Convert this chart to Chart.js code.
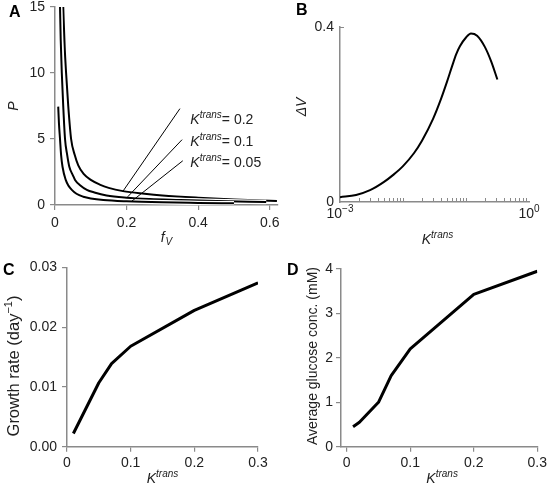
<!DOCTYPE html>
<html><head><meta charset="utf-8">
<script src="https://cdn.jsdelivr.net/npm/chart.js@4"></script>
<style>
html,body{margin:0;padding:0;background:#fff;}
body{width:547px;height:495px;position:relative;overflow:hidden;}
canvas{position:absolute;}
</style></head><body>
<canvas id="cA" width="280" height="250" style="left:0;top:0"></canvas>
<canvas id="cB" width="267" height="250" style="left:280px;top:0"></canvas>
<canvas id="cC" width="280" height="245" style="left:0;top:250px"></canvas>
<canvas id="cD" width="267" height="245" style="left:280px;top:250px"></canvas>
<script>
// ---------------- DATA ----------------
// Panel A: P vs f_V for three K^trans values
const A_fV_K02 = [0.023,0.027,0.031,0.037,0.045,0.055,0.065,0.08,0.1,0.125,0.15,0.19,0.25,0.3,0.4,0.5,0.62];
const A_P_K02  = [15,12,10,7.5,5,3.8,3.0,2.35,1.9,1.55,1.3,1.05,0.85,0.72,0.55,0.42,0.3];
const A_fV_K01 = [0.014,0.016,0.019,0.023,0.028,0.034,0.04,0.05,0.056,0.07,0.089,0.11,0.144,0.2,0.265,0.35,0.45,0.59];
const A_P_K01  = [15,12.5,10,7.5,5,3.8,2.9,2.25,1.9,1.5,1.15,0.95,0.72,0.55,0.45,0.38,0.3,0.22];
const A_fV_K005 = [0.009,0.011,0.014,0.017,0.021,0.03,0.038,0.047,0.06,0.079,0.1,0.135,0.2,0.3,0.4,0.5];
const A_P_K005  = [7.45,6.2,5,3.8,2.9,1.9,1.45,1.15,0.85,0.63,0.5,0.38,0.28,0.2,0.16,0.13];
const A_leader_fV = [[0.349,0.19],[0.355,0.203],[0.357,0.215]];
const A_leader_P  = [[7.3,1.05],[4.95,0.62],[3.35,0.3]];
const A_labelText = ['= 0.2','= 0.1','= 0.05'];
const A_labelP = [6.14,4.47,2.88];
const A_labelF = 0.378;
const A_xTicks = [0,0.2,0.4,0.6];
const A_xTickLabels = ['0','0.2','0.4','0.6'];
const A_yTicks = [0,5,10,15];
const A_yTickLabels = ['0','5','10','15'];

// Panel B: ΔV vs K^trans (log)
const B_K  = [0.001,0.0018,0.003,0.005,0.007,0.01,0.015,0.02,0.03,0.04,0.05,0.06,0.07,0.08,0.1,0.12,0.15,0.2,0.25,0.315];
const B_dV = [0.011,0.016,0.027,0.046,0.062,0.082,0.112,0.14,0.19,0.235,0.275,0.31,0.338,0.356,0.376,0.385,0.38,0.354,0.322,0.28];
const B_yTicks = [0,0.4];
const B_yTickLabels = ['0','0.4'];
const B_xLabelValues = [0.001,1];
const B_xLabelExp = ['\u22123','0'];

// Panel C: growth rate vs K^trans
const C_K = [0.01,0.05,0.07,0.1,0.2,0.3];
const C_growth = [0.0022,0.0107,0.0139,0.0168,0.0228,0.0274];
const C_xTicks = [0,0.1,0.2,0.3];
const C_xTickLabels = ['0','0.1','0.2','0.3'];
const C_yTicks = [0,0.01,0.02,0.03];
const C_yTickLabels = ['0.00','0.01','0.02','0.03'];

// Panel D: average glucose vs K^trans
const D_K = [0.01,0.02,0.05,0.07,0.1,0.2,0.3];
const D_glucose = [0.45,0.55,1.0,1.6,2.2,3.43,3.95];
const D_xTicks = [0,0.1,0.2,0.3];
const D_xTickLabels = ['0','0.1','0.2','0.3'];
const D_yTicks = [0,1,2,3,4];
const D_yTickLabels = ['0','1','2','3','4'];

// ---------------- HELPERS ----------------
const FONT = '"Liberation Sans", Arial, Helvetica, sans-serif';
const AXIS = '#8a8a8a';
const TXT = '#222222';
Chart.defaults.font.family = FONT;
Chart.defaults.font.size = 14;
Chart.defaults.color = TXT;

const pts = (xs, ys) => xs.map((x, i) => ({x, y: ys[i]}));
function fit(size){ return s => { if (s.isHorizontal()) s.height = size; else s.width = size; s.paddingTop = 0; s.paddingBottom = 0; s.paddingLeft = 0; s.paddingRight = 0; }; }
function fixedTicks(vals){ return s => { s.ticks = vals.map(v => ({value: v})); }; }
function linAxis(min, max, vals, labels, fitSize, tickLen, pad){
  return { type:'linear', min, max, afterFit: fit(fitSize), afterBuildTicks: fixedTicks(vals),
    grid:{display:true, drawOnChartArea:false, drawTicks:true, tickLength:tickLen, color:AXIS, lineWidth:1.2},
    border:{display:true, color:AXIS, width:1.5},
    ticks:{padding:pad, color:TXT, font:{size:14}, maxRotation:0, autoSkip:false, callback:(v,i)=>labels[i]} };
}
function drawRich(ctx, parts, x, y, align){
  let total = 0;
  const ws = parts.map(p => { ctx.font = `${p.style||''} ${p.size}px ${FONT}`; const w = ctx.measureText(p.t).width; total += w + (p.gap||0); return w; });
  let cx = align === 'center' ? x - total/2 : (align === 'right' ? x - total : x);
  ctx.textAlign = 'left'; ctx.textBaseline = 'alphabetic';
  parts.forEach((p, i) => { ctx.font = `${p.style||''} ${p.size}px ${FONT}`; ctx.fillText(p.t, cx, y + (p.dy||0)); cx += ws[i] + (p.gap||0); });
}
function drawRotated(ctx, parts, cx, cy){
  ctx.save(); ctx.translate(cx, cy); ctx.rotate(-Math.PI/2); drawRich(ctx, parts, 0, 5, 'center'); ctx.restore();
}
const KT = [{t:'K', size:14, style:'italic'}, {t:'trans', size:10, style:'italic', dy:-6}];
function letter(ctx, s, x, y){ ctx.save(); ctx.fillStyle = '#000'; ctx.font = `bold 16px ${FONT}`; ctx.textAlign='left'; ctx.textBaseline='alphabetic'; ctx.fillText(s, x, y); ctx.restore(); }
const baseOpts = (pad) => ({ responsive:false, animation:false, devicePixelRatio:1, layout:{padding:pad},
  plugins:{legend:{display:false}, tooltip:{enabled:false}}, elements:{point:{radius:0, hoverRadius:0}} });

// ---------------- PANEL A ----------------
const aCurves = [[A_fV_K02, A_P_K02],[A_fV_K01, A_P_K01],[A_fV_K005, A_P_K005]];
const aSets = [];
aCurves.forEach((c, i) => {
  aSets.push({data: pts(c[0], c[1]), borderColor:'#ffffff', borderWidth:4.5, cubicInterpolationMode:'monotone', order: 20 - 2*i});
  aSets.push({data: pts(c[0], c[1]), borderColor:'#000000', borderWidth:2, cubicInterpolationMode:'monotone', order: 19 - 2*i});
});
A_leader_fV.forEach((f, i) => aSets.push({data: pts(f, A_leader_P[i]), borderColor:'#000', borderWidth:1, order: 1}));
const optA = baseOpts({top:7, right:2, left:0, bottom:0});
optA.scales = { x: linAxis(0, 0.623, A_xTicks, A_xTickLabels, 45, 5, 5), y: linAxis(0, 15, A_yTicks, A_yTickLabels, 55, 5, 5) };
new Chart(document.getElementById('cA'), { type:'line', data:{datasets:aSets}, options:optA,
  plugins:[{id:'txtA', afterDraw(ch){
    const ctx = ch.ctx, xs = ch.scales.x, ys = ch.scales.y, ca = ch.chartArea;
    ctx.save(); ctx.fillStyle = TXT;
    A_labelText.forEach((t, i) => drawRich(ctx, [...KT, {t:t, size:14, gap:0}], xs.getPixelForValue(A_labelF), ys.getPixelForValue(A_labelP[i]), 'left'));
    drawRich(ctx, [{t:'f', size:14, style:'italic', gap:1}, {t:'V', size:10, style:'italic', dy:3}], (ca.left+ca.right)/2, 242, 'center');
    drawRotated(ctx, [{t:'P', size:14, style:'italic'}], 13, (ca.top+ca.bottom)/2);
    ctx.restore();
    letter(ctx, 'A', 9, 17);
  }}]
});

// ---------------- PANEL B ----------------
const optB = baseOpts({top:27, right:18, left:0, bottom:0});
optB.scales = {
  x: { type:'logarithmic', min:0.001, max:1, afterFit: fit(48), afterBuildTicks: fixedTicks(B_xLabelValues),
       grid:{display:false, drawTicks:false}, border:{display:true, color:AXIS, width:1.5}, ticks:{display:false} },
  y: { type:'linear', min:0, max:0.4, afterFit: fit(60), afterBuildTicks: fixedTicks(B_yTicks),
       grid:{display:false, drawTicks:false}, border:{display:true, color:AXIS, width:1.5},
       ticks:{padding:6, color:TXT, font:{size:14}, callback:(v,i)=>B_yTickLabels[i]} }
};
new Chart(document.getElementById('cB'), { type:'line',
  data:{datasets:[{data: pts(B_K, B_dV), borderColor:'#000', borderWidth:2, cubicInterpolationMode:'monotone'}]},
  options:optB,
  plugins:[{id:'txtB', afterDraw(ch){
    const ctx = ch.ctx, xs = ch.scales.x, ys = ch.scales.y, ca = ch.chartArea;
    ctx.save();
    ctx.strokeStyle = AXIS; ctx.lineWidth = 1;
    for (let k = -3; k <= -1; k++) for (let m = 1; m <= 9; m++) {
      const v = m * Math.pow(10, k); if (k === -3 && m === 1) continue;
      const px = Math.round(xs.getPixelForValue(v)) + 0.5;
      ctx.beginPath(); ctx.moveTo(px, ca.bottom); ctx.lineTo(px, ca.bottom - 4); ctx.stroke();
    }
    const top = Math.round(ys.getPixelForValue(0.4)) + 0.5;
    ctx.beginPath(); ctx.moveTo(ca.left, top); ctx.lineTo(ca.left + 4, top); ctx.stroke();
    ctx.fillStyle = TXT;
    B_xLabelValues.forEach((v, i) => drawRich(ctx, [{t:'10', size:14}, {t:B_xLabelExp[i], size:10, dy:-6}], xs.getPixelForValue(v), 218, 'center'));
    drawRich(ctx, KT, (ca.left+ca.right)/2 + 3, 244, 'center');
    drawRotated(ctx, [{t:'\u0394V', size:14, style:'italic'}], 21, 107);
    ctx.restore();
    letter(ctx, 'B', 16, 15);
  }}]
});

// ---------------- PANEL C ----------------
const optC = baseOpts({top:17.3, right:22, left:0, bottom:0});
optC.scales = { x: linAxis(0, 0.3, C_xTicks, C_xTickLabels, 48.3, 5, 3), y: linAxis(0, 0.03, C_yTicks, C_yTickLabels, 67, 5, 5) };
new Chart(document.getElementById('cC'), { type:'line',
  data:{datasets:[{data: pts(C_K, C_growth), borderColor:'#000', borderWidth:3, borderJoinStyle:'round', borderCapStyle:'butt'}]},
  options:optC,
  plugins:[{id:'txtC', afterDraw(ch){
    const ctx = ch.ctx, ca = ch.chartArea;
    ctx.save(); ctx.fillStyle = TXT;
    drawRich(ctx, KT, (ca.left+ca.right)/2, 233, 'center');
    drawRotated(ctx, [{t:'Growth rate (day', size:16.5}, {t:'\u22121', size:11, dy:-7}, {t:')', size:16.5}], 14, 116);
    ctx.restore();
    letter(ctx, 'C', 3, 25);
  }}]
});

// ---------------- PANEL D ----------------
const optD = baseOpts({top:19, right:9.7, left:0, bottom:0});
optD.scales = { x: linAxis(-0.009, 0.3, D_xTicks, D_xTickLabels, 48.3, 5, 3), y: linAxis(0, 4, D_yTicks, D_yTickLabels, 61, 5, 3) };
new Chart(document.getElementById('cD'), { type:'line',
  data:{datasets:[{data: pts(D_K, D_glucose), borderColor:'#000', borderWidth:3, borderJoinStyle:'round', borderCapStyle:'butt'}]},
  options:optD,
  plugins:[{id:'txtD', afterDraw(ch){
    const ctx = ch.ctx, ca = ch.chartArea;
    ctx.save(); ctx.fillStyle = TXT;
    drawRich(ctx, KT, (ca.left+ca.right)/2 + 3, 233, 'center');
    drawRotated(ctx, [{t:'Average glucose conc. (mM)', size:14}], 32, 106);
    ctx.restore();
    letter(ctx, 'D', 7, 25);
  }}]
});
</script>
</body></html>
